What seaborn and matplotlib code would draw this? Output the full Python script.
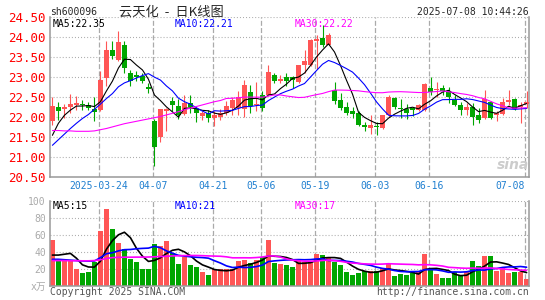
import matplotlib
matplotlib.use("Agg")
import matplotlib.pyplot as plt
import numpy as np
import pandas as pd
import seaborn as sns

W, H = 545, 300

# daily candles, 2025-03-12 .. 2025-07-08 (80 trading days)
open_ = [21.90, 22.25, 22.22, 22.26, 22.32, 22.33, 22.32, 22.21, 22.19, 22.98,
         23.68, 23.43, 23.80, 23.10, 23.05, 23.03, 22.75, 21.90, 21.52, 22.15,
         22.42, 22.29, 22.08, 22.35, 22.21, 22.04, 22.10, 21.98, 22.02, 22.12,
         22.23, 22.23, 22.22, 22.63, 22.30, 22.57, 22.57, 23.07, 22.92, 23.01,
         23.00, 22.88, 23.32, 23.31, 23.92, 23.99, 23.82, 22.69, 22.42, 22.26,
         22.15, 22.11, 21.80, 21.73, 21.79, 21.73, 22.05, 22.48, 22.22, 22.22,
         22.23, 22.19, 22.19, 22.73, 22.68, 22.73, 22.67, 22.44, 22.32, 22.19,
         22.26, 22.05, 21.98, 22.38, 22.05, 22.08, 22.38, 22.47, 22.25, 22.33]
high = [22.50, 22.38, 22.33, 22.59, 22.54, 22.44, 22.38, 22.50, 23.16, 23.90,
        23.90, 24.16, 23.90, 23.18, 23.16, 23.12, 22.86, 21.95, 22.21, 22.23,
        22.52, 22.45, 22.56, 22.55, 22.25, 22.16, 22.18, 22.16, 22.20, 22.40,
        22.52, 22.65, 22.94, 22.82, 22.88, 22.65, 23.32, 23.10, 23.07, 23.12,
        23.03, 23.32, 23.69, 23.95, 24.07, 24.31, 24.11, 22.88, 22.61, 22.38,
        22.25, 22.15, 21.88, 22.05, 21.88, 22.06, 22.57, 22.52, 22.46, 22.33,
        22.26, 22.33, 22.85, 23.02, 22.88, 22.82, 22.75, 22.57, 22.38, 22.36,
        22.36, 22.23, 22.69, 22.42, 22.15, 22.48, 22.69, 22.48, 22.38, 22.67]
low = [21.80, 21.94, 21.98, 22.11, 22.19, 22.19, 22.19, 21.92, 22.15, 22.78,
       23.45, 23.40, 23.10, 22.78, 22.90, 22.86, 22.61, 20.79, 21.39, 21.65,
       22.15, 21.95, 22.05, 22.12, 21.89, 21.93, 21.88, 21.79, 21.93, 22.05,
       22.05, 22.05, 22.00, 22.11, 22.15, 22.15, 22.53, 22.86, 22.86, 22.78,
       22.73, 22.85, 23.11, 23.28, 23.22, 23.75, 23.80, 22.33, 22.19, 22.05,
       21.98, 21.78, 21.67, 21.58, 21.55, 21.71, 22.02, 22.22, 21.98, 21.97,
       22.03, 22.15, 22.15, 22.57, 22.52, 22.57, 22.36, 22.28, 22.07, 22.07,
       21.82, 21.86, 21.96, 21.96, 21.92, 22.05, 22.32, 22.19, 21.86, 22.23]
close = [22.29, 22.17, 22.26, 22.33, 22.35, 22.30, 22.23, 22.13, 22.94, 23.69,
         23.53, 23.87, 23.23, 22.90, 23.00, 22.92, 22.71, 21.25, 22.21, 22.21,
         22.30, 22.05, 22.35, 22.27, 22.10, 22.10, 21.99, 22.06, 22.12, 22.29,
         22.42, 22.52, 22.80, 22.29, 22.34, 22.23, 23.13, 22.92, 22.97, 22.90,
         22.94, 23.30, 23.42, 23.92, 23.96, 23.81, 24.07, 22.40, 22.23, 22.11,
         22.08, 21.80, 21.77, 21.82, 21.76, 22.05, 22.50, 22.26, 22.20, 22.11,
         22.19, 22.30, 22.83, 22.63, 22.72, 22.67, 22.52, 22.32, 22.19, 22.26,
         22.00, 21.94, 22.47, 21.98, 22.11, 22.38, 22.44, 22.22, 22.30, 22.38]
# volume, 万手
volume = [54.4, 29.2, 29.2, 29.2, 19.6, 15.2, 16.4, 28.4, 64.0, 90.4,
          66.4, 50.8, 43.6, 31.6, 28.0, 19.6, 19.6, 49.6, 47.2, 53.2,
          38.8, 25.6, 34.0, 24.4, 22.0, 16.0, 12.4, 19.6, 19.6, 19.6,
          20.0, 29.2, 30.0, 27.0, 30.4, 34.0, 54.4, 27.2, 25.6, 24.4,
          22.0, 31.6, 28.0, 29.2, 37.6, 36.4, 34.0, 28.0, 24.4, 16.0,
          12.4, 14.8, 17.2, 17.2, 17.2, 20.8, 25.6, 11.2, 13.6, 12.4,
          14.8, 15.6, 37.6, 19.6, 13.6, 8.8, 8.8, 16.0, 11.2, 16.0,
          29.2, 23.2, 35.2, 35.2, 17.2, 22.0, 14.8, 16.0, 16.0, 7.6]

# moving averages before a full window exists
ma5_head = [21.55, 21.85, 22.05, 22.18]
ma10_head = [21.30, 21.44, 21.58, 21.72, 21.85, 21.97, 22.07, 22.20, 22.33]
ma30_head = [21.67, 21.67, 21.66, 21.66, 21.65, 21.65, 21.65, 21.66, 21.69, 21.72,
             21.76, 21.80, 21.84, 21.87, 21.90, 21.93, 21.96, 21.99, 22.02, 22.06,
             22.10, 22.14, 22.19, 22.23, 22.27, 22.31, 22.35, 22.39, 22.42]
vma5_head = [36.0, 36.0, 37.0, 38.0]
vma10_head = [31.0, 31.0, 30.5, 30.0, 29.5, 29.0, 28.8, 29.0, 33.0]
vma30_head = [29.5, 29.5, 29.5, 29.3, 29.3, 29.2, 29.2, 29.5, 30.5, 32.0,
              33.0, 33.3, 33.5, 33.5, 33.6, 33.6, 33.7, 34.0, 34.3, 34.6,
              35.0, 35.2, 35.4, 35.5, 35.5, 35.3, 35.0, 34.8, 34.6]

tick_idx = [8, 17, 27, 35, 44, 54, 63, 79]
tick_labels = ["2025-03-24", "04-07", "04-21", "05-06", "05-19", "06-03", "06-16", "07-08"]

RED = "#ff5555"
GREEN = "#00a600"
GRID = "#aaaaaa"
FRAME = "#999999"


def fx(x):
    return x / W


def fy(y):
    return 1 - y / H


def moving(values, n, head):
    s = pd.Series(values).rolling(n).mean()
    s.iloc[:len(head)] = head
    return s.to_numpy()


df = pd.DataFrame({"open": open_, "high": high, "low": low, "close": close, "volume": volume})
df["x"] = np.arange(len(df))
df["up"] = df["close"] >= df["open"]
df["color"] = np.where(df["up"], RED, GREEN)
df["ma5"] = moving(close, 5, ma5_head)
df["ma10"] = moving(close, 10, ma10_head)
df["ma30"] = moving(close, 30, ma30_head)
df["vma5"] = moving(volume, 5, vma5_head)
df["vma10"] = moving(volume, 10, vma10_head)
df["vma30"] = moving(volume, 30, vma30_head)

sns.set_style("white")
plt.rcParams["font.family"] = ["DejaVu Sans Mono", "Noto Sans CJK SC"]
plt.rcParams["lines.scale_dashes"] = False

fig = plt.figure(figsize=(W / 100, H / 100), dpi=100)
ax = fig.add_axes([fx(50), fy(177.3), fx(479), 160 / H])
axv = fig.add_axes([fx(50), fy(285.5), fx(479), 84.5 / H])

xlim = (-0.4, len(df) - 0.6)
vlines = np.array(tick_idx) - 0.3

for a in (ax, axv):
    a.set_xlim(*xlim)
    a.set_facecolor("white")
    for side in ("left", "right", "bottom"):
        a.spines[side].set_color(FRAME)
        a.spines[side].set_linewidth(1.1)
    a.spines["top"].set_visible(False)
    for v in vlines:
        a.axvline(v, color=GRID, lw=0.9, dashes=(3.6, 1.6), zorder=0)
    a.tick_params(length=0)

# price panel
ax.set_ylim(20.5, 24.5)
yt = np.arange(20.5, 24.51, 0.5)
for y in yt[1:]:
    ax.axhline(y, color=GRID, lw=0.8, dashes=(0.7, 1.5), zorder=0)
ax.set_yticks(yt)
ax.set_yticklabels([f"{v:.2f}" for v in yt], color="#ff0000", fontsize=9)
ax.tick_params(axis="y", pad=3)
ax.set_xticks(vlines)
ax.set_xticklabels(tick_labels, color="#1f7fd0", fontsize=7)
ax.tick_params(axis="x", pad=3)
# the last date sits against the right frame, keep it inside
ax.get_xticklabels()[-1].set_horizontalalignment("right")

ax.vlines(df["x"], df["low"], df["high"], colors=df["color"], lw=0.8, zorder=2)
body = (df["close"] - df["open"]).abs().clip(lower=0.025)
ax.bar(df["x"], body, bottom=df[["open", "close"]].min(axis=1), width=0.72,
       color=df["color"], lw=0, zorder=3)

for col, c in (("ma5", "black"), ("ma10", "#0000ff"), ("ma30", "#ff00ff")):
    sns.lineplot(data=df, x="x", y=col, ax=ax, color=c, lw=0.8, zorder=4)
ax.set_xlabel("")
ax.set_ylabel("")

# volume panel
axv.set_ylim(0, 100)
for y in (20, 40, 60, 80, 100):
    axv.axhline(y, color=GRID, lw=0.8, dashes=(0.7, 1.5), zorder=0)
axv.set_yticks([0, 20, 40, 60, 80, 100])
axv.set_yticklabels(["x万", "20", "40", "60", "80", "100"], color="#aaaaaa", fontsize=7)
axv.tick_params(axis="y", pad=3)
axv.set_xticks([])
axv.bar(df["x"], df["volume"], width=0.84, color=df["color"], lw=0, zorder=2)
for col, c in (("vma5", "black"), ("vma10", "#0000ff"), ("vma30", "#ff00ff")):
    sns.lineplot(data=df, x="x", y=col, ax=axv, color=c, lw=1.2, zorder=4)
axv.set_xlabel("")
axv.set_ylabel("")

# header and labels
fig.text(fx(50), fy(11.7), "sh600096", fontsize=7, va="center", ha="left")
fig.text(fx(171), fy(11.7), "云天化  -  日K线图", fontsize=9.5, va="center", ha="center",
         family=["Noto Sans CJK SC", "DejaVu Sans"])
fig.text(fx(529), fy(11.7), "2025-07-08 10:44:26", fontsize=7, va="center", ha="right")

fig.text(fx(53), fy(24), "MA5:22.35", fontsize=7, va="center", color="black")
fig.text(fx(175), fy(24), "MA10:22.21", fontsize=7, va="center", color="#0000ff")
fig.text(fx(295), fy(24), "MA30:22.22", fontsize=7, va="center", color="#ff00ff")
fig.text(fx(53), fy(206), "MA5:15", fontsize=7, va="center", color="black")
fig.text(fx(175), fy(206), "MA10:21", fontsize=7, va="center", color="#0000ff")
fig.text(fx(295), fy(206), "MA30:17", fontsize=7, va="center", color="#ff00ff")

fig.text(fx(513), fy(165), "sina", fontsize=10, style="italic", weight="bold",
         color="#cccccc", ha="center", va="center", family="DejaVu Sans")

fig.text(fx(50), fy(292), "Copyright 2025 SINA.COM", fontsize=7, va="center", color="#555555")
fig.text(fx(529), fy(292), "http://finance.sina.com.cn", fontsize=7, va="center", ha="right",
         color="#555555")

fig.savefig("out.png", dpi=100)
